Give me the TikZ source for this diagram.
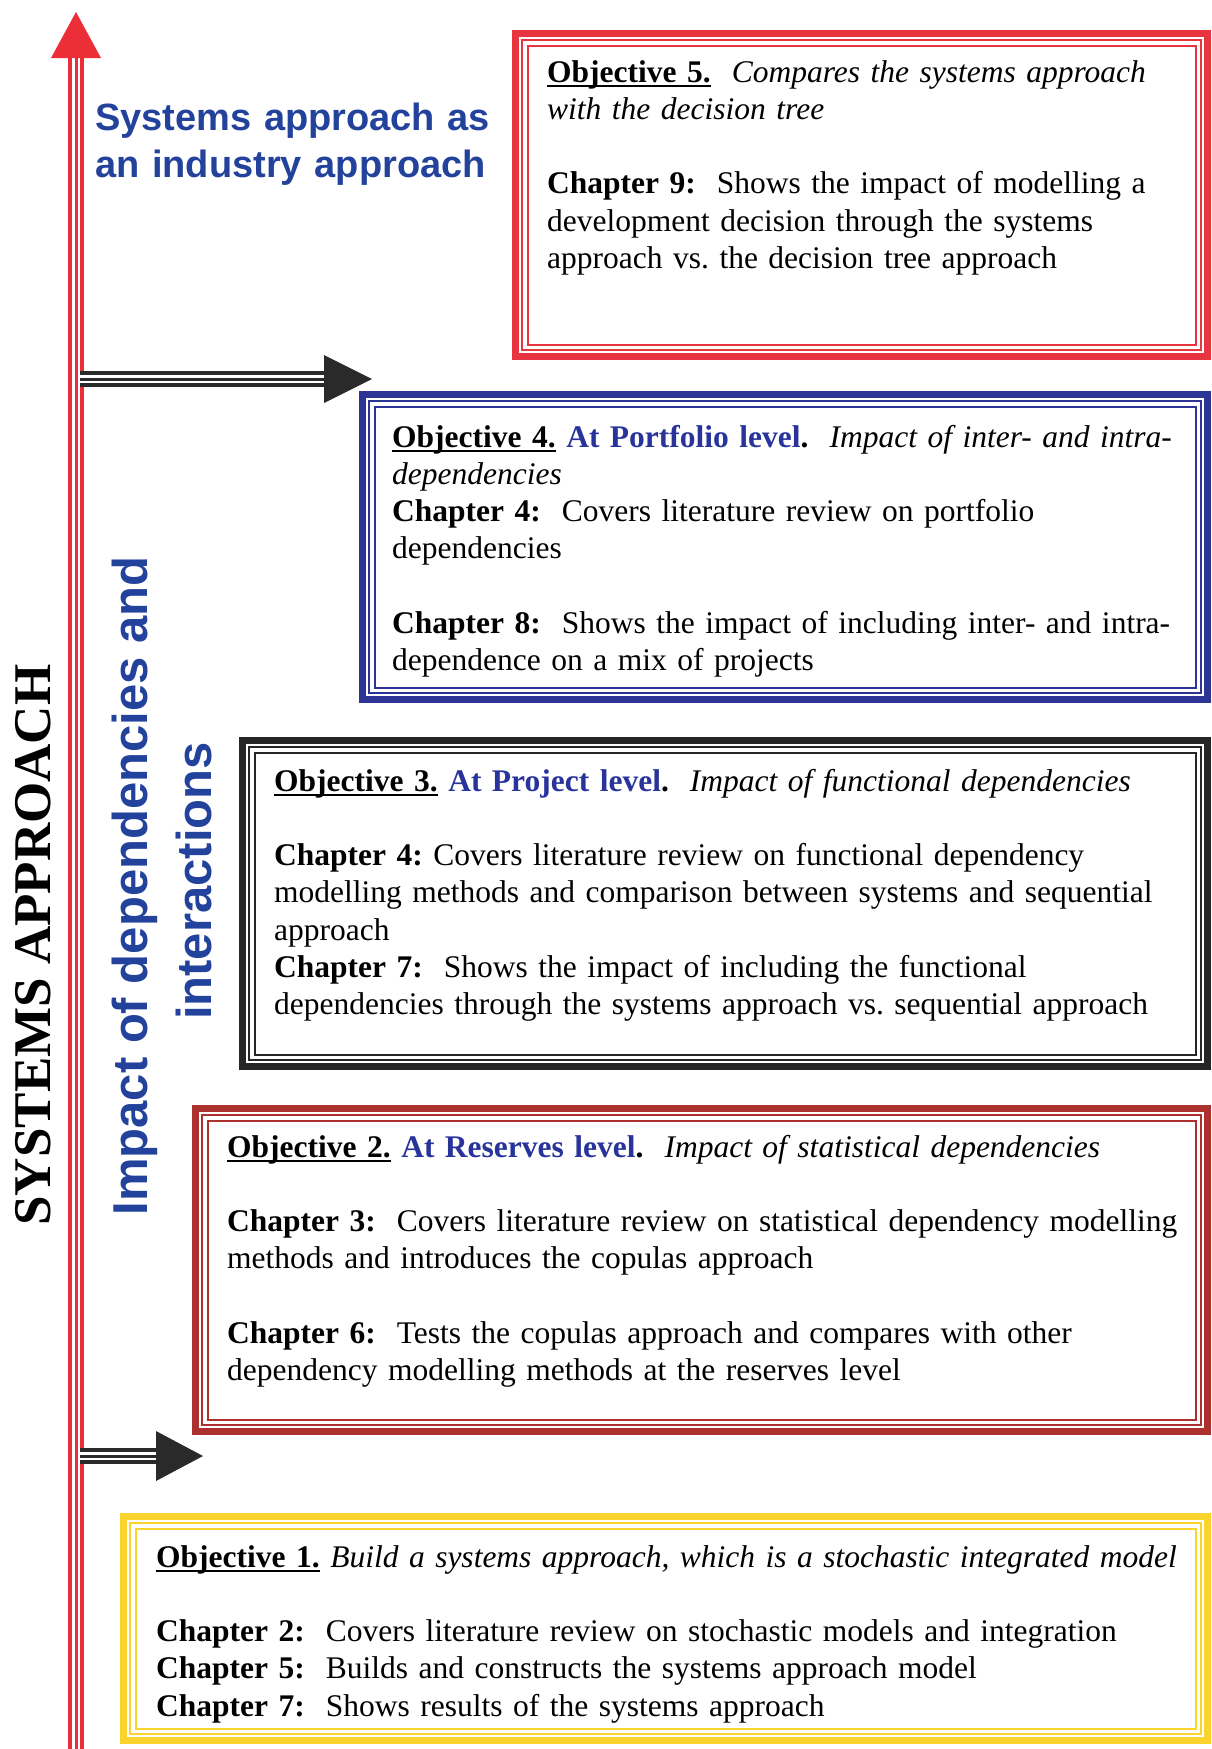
\documentclass[tikz,border=0pt]{standalone}
\usepackage{fontspec}
\setmainfont{Liberation Serif}
\setsansfont{Liberation Sans}
\usepackage{tikz}
\frenchspacing

\definecolor{axisred}{RGB}{236,46,56}
\definecolor{obj5red}{RGB}{232,52,62}
\definecolor{obj4blue}{RGB}{44,52,150}
\definecolor{obj3black}{RGB}{38,38,38}
\definecolor{obj2maroon}{RGB}{172,48,46}
\definecolor{obj1gold}{RGB}{250,212,45}
\definecolor{levelblue}{RGB}{40,52,155}
\definecolor{themeblue}{RGB}{34,66,156}
\definecolor{arrowgrey}{RGB}{42,42,42}

\tikzset{
  objbox/.style={anchor=north west, inner sep=0pt, outer sep=0pt},
  objtext/.style={anchor=north west, inner sep=0pt, text width=1040pt, align=left,
    font=\frenchspacing\fontsize{31.5}{37.2}\selectfont},
  theme/.style={text=themeblue, inner sep=0pt,
    font=\sffamily\bfseries\fontsize{49}{58}\selectfont},
  railout/.style={line width=16pt},
  railgap/.style={white, line width=8pt},
  railmid/.style={line width=3pt},
}

% thick-thin-thin border round a box node
\newcommand{\objframe}[2]{%
  \draw[#2, line width=7pt] ([shift={(3.5pt,-3.5pt)}]#1.north west) rectangle ([shift={(-3.5pt,3.5pt)}]#1.south east);
  \draw[#2, line width=2pt] ([shift={(10pt,-10pt)}]#1.north west) rectangle ([shift={(-10pt,10pt)}]#1.south east);
  \draw[#2, line width=2pt] ([shift={(15.5pt,-15.5pt)}]#1.north west) rectangle ([shift={(-15.5pt,15.5pt)}]#1.south east);
}
% bold objective label with a heavy underline
\newcommand{\objhead}[1]{\setbox0\hbox{\textbf{#1}}\rlap{\rule[-5pt]{\wd0}{2.5pt}}\box0\relax}

\begin{document}
\begin{tikzpicture}[x=1pt, y=-1pt]

    % thesis_objectives
    \useasboundingbox (0,0) rectangle (1212,1749);

    % systems approach axis
    \coordinate (axisbot) at (76,1749);
    \coordinate (axistop) at (76,58);
    \draw[axisred, railout] (axisbot) -- (axistop);
    \draw[railgap] (axisbot) -- (axistop);
    \draw[axisred, railmid] (axisbot) -- (axistop);
    \fill[axisred] ([xshift=-25pt]axistop) -- ([xshift=25pt]axistop) -- ([yshift=46pt]axistop) -- cycle; % tip

    \node[rotate=90, anchor=base, inner sep=0pt, font=\bfseries\fontsize{53}{60}\selectfont] (sysapp) at (50,945) {SYSTEMS APPROACH};
    \node[theme, rotate=90, anchor=base] (impact) at (147,886) {Impact of dependencies and};
    \node[theme, rotate=90, anchor=base] (interact) at (211,881) {interactions};
    \node[theme, anchor=north west, text width=420pt, align=left,
      font=\sffamily\bfseries\fontsize{38}{47}\selectfont] (industry) at (95,97) {\strut Systems approach as\\an industry approach};

    % axis -> portfolio level
    \coordinate (tail4) at (80,379);
    \coordinate (head4) at (324,379);
    \coordinate (tip4) at (372,379);
    \draw[arrowgrey, railout] (tail4) -- (head4);
    \draw[railgap] (tail4) -- (head4);
    \draw[arrowgrey, railmid] (tail4) -- (head4);
    \fill[arrowgrey] ([yshift=24pt]head4) -- (tip4) -- ([yshift=-24pt]head4) -- cycle;

    % axis -> reserves level
    \coordinate (tail2) at (80,1456);
    \coordinate (head2) at (156,1456);
    \coordinate (tip2) at (203,1456);
    \draw[arrowgrey, railout] (tail2) -- (head2);
    \draw[railgap] (tail2) -- (head2);
    \draw[arrowgrey, railmid] (tail2) -- (head2);
    \fill[arrowgrey] ([yshift=25pt]head2) -- (tip2) -- ([yshift=-25pt]head2) -- cycle;

    % Objective 5
    \node[objbox, minimum width=699pt, minimum height=330pt] (obj5) at (512,30) {};
    \objframe{obj5}{obj5red}
    \node[objtext] (obj5txt) at (547,56) {\strut\objhead{Objective 5.}~ \textit{Compares the systems approach}\\
      \textit{with the decision tree}\\[37.2pt]
      \textbf{Chapter 9:}~ Shows the impact of modelling a\\
      development decision through the systems\\
      approach vs. the decision tree approach};

    % Objective 4
    \node[objbox, minimum width=852pt, minimum height=312pt] (obj4) at (359,391) {};
    \objframe{obj4}{obj4blue}
    \node[objtext] (obj4txt) at (392,421) {\strut\objhead{Objective 4.} \textcolor{levelblue}{\textbf{At Portfolio level}}\textbf{.}~ \textit{Impact of inter- and intra-}\\
      \textit{dependencies}\\
      \textbf{Chapter 4:}~ Covers literature review on portfolio\\
      dependencies\\[37.2pt]
      \textbf{Chapter 8:}~ Shows the impact of including inter- and intra-\\
      dependence on a mix of projects};

    % Objective 3
    \node[objbox, minimum width=972pt, minimum height=333pt] (obj3) at (239,737) {};
    \objframe{obj3}{obj3black}
    \node[objtext] (obj3txt) at (274,765) {\strut\objhead{Objective 3.} \textcolor{levelblue}{\textbf{At Project level}}\textbf{.}~ \textit{Impact of functional dependencies}\\[37.2pt]
      \textbf{Chapter 4:} Covers literature review on functional dependency\\
      modelling methods and comparison between systems and sequential\\
      approach\\
      \textbf{Chapter 7:}~ Shows the impact of including the functional\\
      dependencies through the systems approach vs. sequential approach};

    % Objective 2
    \node[objbox, minimum width=1019pt, minimum height=330pt] (obj2) at (192,1105) {};
    \objframe{obj2}{obj2maroon}
    \node[objtext] (obj2txt) at (227,1131) {\strut\objhead{Objective 2.} \textcolor{levelblue}{\textbf{At Reserves level}}\textbf{.}~ \textit{Impact of statistical dependencies}\\[37.2pt]
      \textbf{Chapter 3:}~ Covers literature review on statistical dependency modelling\\
      methods and introduces the copulas approach\\[37.2pt]
      \textbf{Chapter 6:}~ Tests the copulas approach and compares with other\\
      dependency modelling methods at the reserves level};

    % Objective 1
    \node[objbox, minimum width=1091pt, minimum height=231pt] (obj1) at (120,1513) {};
    \objframe{obj1}{obj1gold}
    \node[objtext] (obj1txt) at (156,1541) {\strut\objhead{Objective 1.} \textit{Build a systems approach, which is a stochastic integrated model}\\[37.2pt]
      \textbf{Chapter 2:}~ Covers literature review on stochastic models and integration\\
      \textbf{Chapter 5:}~ Builds and constructs the systems approach model\\
      \textbf{Chapter 7:}~ Shows results of the systems approach};

\end{tikzpicture}
\end{document}
